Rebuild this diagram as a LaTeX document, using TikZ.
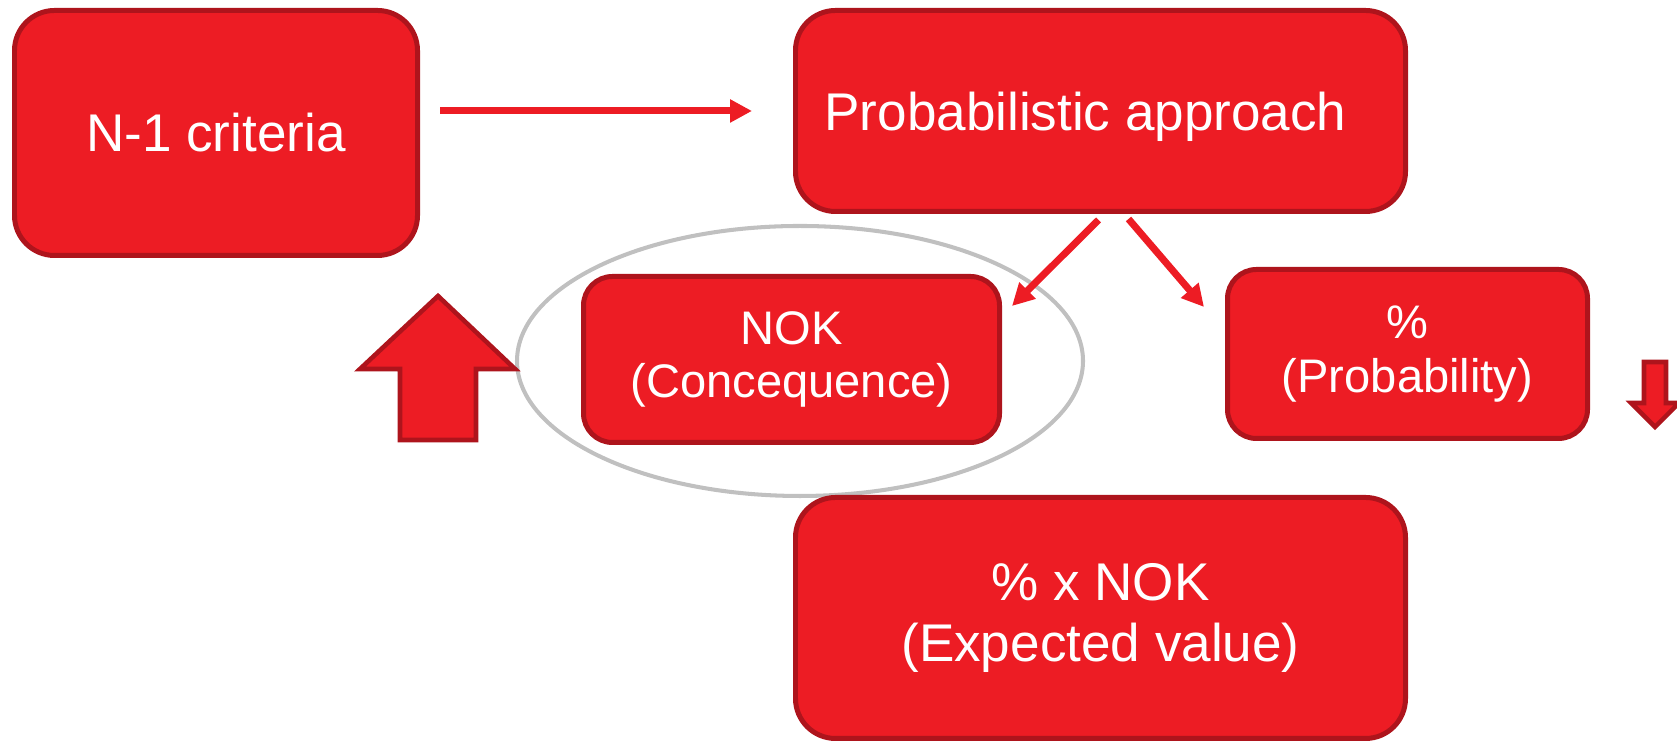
\documentclass[tikz,border=0pt]{standalone}
\usepackage{fontspec}
\setmainfont{Liberation Sans}
\usetikzlibrary{arrows.meta, positioning}

\definecolor{boxred}{RGB}{237,28,36}
\definecolor{boxedge}{RGB}{174,20,28}
\definecolor{ringgray}{RGB}{192,192,192}

\begin{document}
\begin{tikzpicture}[
        > = {Triangle[length=2.2mm, width=2.2mm]}, % arrow head style
        auto,
        node distance = 2.8cm, % distance between nodes
        line width = 1.1pt % line style
    ]

    \tikzstyle{box}=[
        draw = boxedge,
        fill = boxred,
        text = white,
        rectangle,
        rounded corners = 4mm,
        line width = 1.42pt,
        align = center,
        font = \fontsize{15.1}{17}\selectfont
    ]
    \tikzstyle{small box}=[box, rounded corners = 2.9mm, font = \fontsize{13.4}{15.3}\selectfont]
    \tikzstyle{flow}=[->, draw = boxred, line width = 2pt]
    \tikzstyle{block arrow}=[fill = boxred, draw = boxedge, line width = 1.3pt, line join = miter]

    \useasboundingbox (0,0) rectangle (16.77,7.43);

    % grey ring round the consequence box
    \draw[ringgray, line width = 1.15pt] (8.00,3.82) ellipse (2.83cm and 1.35cm);

    \node[box, minimum width = 4.03cm, minimum height = 2.45cm] (crit) at (2.16,6.10) {N-1 criteria};
    \node[box, minimum width = 6.10cm, minimum height = 2.01cm, text height = 5.1mm, right = 3.73cm of crit.north east, anchor = north west] (prob) {Probabilistic approach\hspace*{3mm}};
    \node[box, minimum width = 6.10cm, minimum height = 2.41cm, below = 2.81cm of prob, font = \fontsize{15.1}{17.4}\selectfont] (expect) {\% x NOK\\(Expected value)};
    \node[small box, minimum width = 4.16cm, minimum height = 1.66cm] (cons) at (7.915,3.835) {NOK\\(Concequence)};
    \node[small box, minimum width = 3.60cm, minimum height = 1.69cm] (pct) at (14.075,3.89) {\%\\(Probability)};

    \draw[flow, shorten <= 2mm, shorten >= 4.1mm] (crit.east |- prob.west) -- (prob.west);
    \draw[flow] ([xshift=-0.02cm, yshift=-0.06cm]prob.south) -- ([xshift=0.10cm, yshift=-0.32cm]cons.north east);
    \draw[flow] ([xshift=0.28cm, yshift=-0.05cm]prob.south) -- ([xshift=-0.21cm, yshift=-0.40cm]pct.north west);

    % big up and down arrows
    \draw[block arrow] (4.38,4.47) -- (5.15,3.74) -- (4.76,3.74) -- (4.76,3.03) -- (4.00,3.03) -- (4.00,3.74) -- (3.60,3.74) -- cycle;
    \draw[block arrow] (16.44,3.81) -- (16.66,3.81) -- (16.66,3.40) -- (16.79,3.40) -- (16.55,3.16) -- (16.31,3.40) -- (16.44,3.40) -- cycle;
\end{tikzpicture}
\end{document}
